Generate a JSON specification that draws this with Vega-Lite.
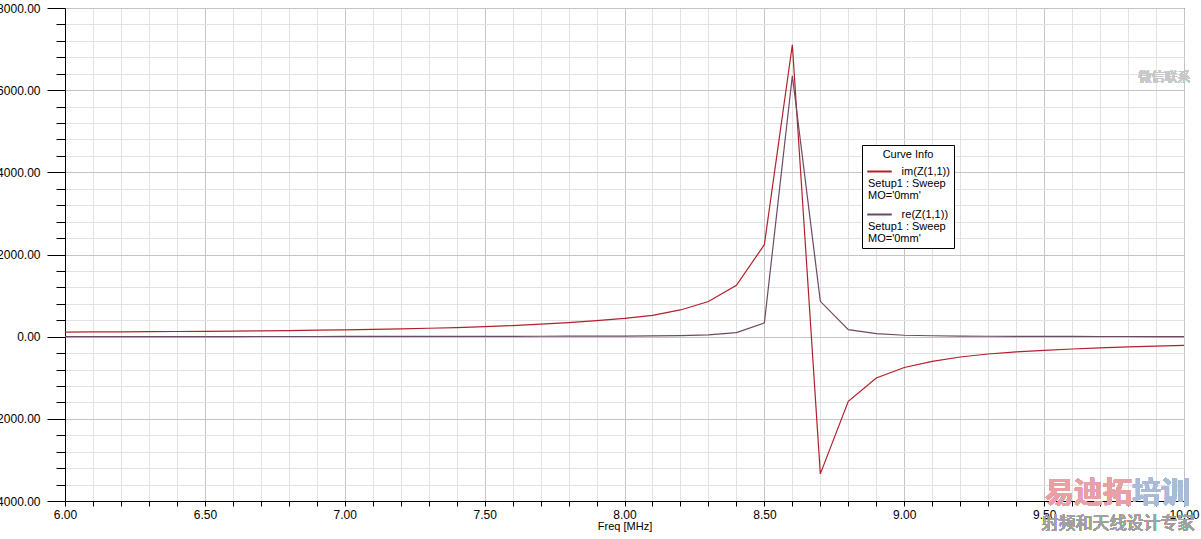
{
  "$schema": "https://vega.github.io/schema/vega-lite/v6.json",
  "autosize": "none",
  "width": 1119,
  "height": 493,
  "padding": {"left": 65, "top": 8, "right": 17, "bottom": 38},
  "background": "white",
  "config": {
    "font": "Liberation Sans",
    "view": {"stroke": "black", "strokeWidth": 1},
    "axis": {
      "domainColor": "black",
      "tickColor": "black",
      "labelColor": "black",
      "titleColor": "black",
      "labelFont": "Liberation Sans",
      "titleFont": "Liberation Sans",
      "labelFontSize": 12,
      "labelOverlap": false,
      "labelBound": false,
      "labelFlush": false,
      "gridOpacity": 1,
      "gridWidth": 1,
      "tickCount": 200
    },
    "legend": {
      "strokeColor": "black",
      "fillColor": "white",
      "padding": 4,
      "titleFont": "Liberation Sans",
      "titleFontSize": 11,
      "titleFontWeight": "normal",
      "titleColor": "black",
      "titleAnchor": "middle",
      "titlePadding": -2,
      "labelFont": "Liberation Sans",
      "labelFontSize": 11,
      "labelColor": "black",
      "symbolType": "M-1,0H1",
      "symbolStrokeWidth": 2,
      "symbolSize": 600,
      "rowPadding": -1
    }
  },
  "data": {
    "values": [
      {"f": 6.0, "v": 112, "s": "im(Z(1,1))"},
      {"f": 6.1, "v": 115, "s": "im(Z(1,1))"},
      {"f": 6.2, "v": 118, "s": "im(Z(1,1))"},
      {"f": 6.3, "v": 122, "s": "im(Z(1,1))"},
      {"f": 6.4, "v": 126, "s": "im(Z(1,1))"},
      {"f": 6.5, "v": 131, "s": "im(Z(1,1))"},
      {"f": 6.6, "v": 136, "s": "im(Z(1,1))"},
      {"f": 6.7, "v": 142, "s": "im(Z(1,1))"},
      {"f": 6.8, "v": 149, "s": "im(Z(1,1))"},
      {"f": 6.9, "v": 157, "s": "im(Z(1,1))"},
      {"f": 7.0, "v": 166, "s": "im(Z(1,1))"},
      {"f": 7.1, "v": 177, "s": "im(Z(1,1))"},
      {"f": 7.2, "v": 190, "s": "im(Z(1,1))"},
      {"f": 7.3, "v": 205, "s": "im(Z(1,1))"},
      {"f": 7.4, "v": 222, "s": "im(Z(1,1))"},
      {"f": 7.5, "v": 243, "s": "im(Z(1,1))"},
      {"f": 7.6, "v": 270, "s": "im(Z(1,1))"},
      {"f": 7.7, "v": 303, "s": "im(Z(1,1))"},
      {"f": 7.8, "v": 343, "s": "im(Z(1,1))"},
      {"f": 7.9, "v": 390, "s": "im(Z(1,1))"},
      {"f": 8.0, "v": 445, "s": "im(Z(1,1))"},
      {"f": 8.1, "v": 520, "s": "im(Z(1,1))"},
      {"f": 8.2, "v": 650, "s": "im(Z(1,1))"},
      {"f": 8.3, "v": 855, "s": "im(Z(1,1))"},
      {"f": 8.4, "v": 1250, "s": "im(Z(1,1))"},
      {"f": 8.5, "v": 2240, "s": "im(Z(1,1))"},
      {"f": 8.6, "v": 7105, "s": "im(Z(1,1))"},
      {"f": 8.7, "v": -3340, "s": "im(Z(1,1))"},
      {"f": 8.8, "v": -1575, "s": "im(Z(1,1))"},
      {"f": 8.9, "v": -1005, "s": "im(Z(1,1))"},
      {"f": 9.0, "v": -750, "s": "im(Z(1,1))"},
      {"f": 9.1, "v": -600, "s": "im(Z(1,1))"},
      {"f": 9.2, "v": -495, "s": "im(Z(1,1))"},
      {"f": 9.3, "v": -422, "s": "im(Z(1,1))"},
      {"f": 9.4, "v": -372, "s": "im(Z(1,1))"},
      {"f": 9.5, "v": -333, "s": "im(Z(1,1))"},
      {"f": 9.6, "v": -300, "s": "im(Z(1,1))"},
      {"f": 9.7, "v": -275, "s": "im(Z(1,1))"},
      {"f": 9.8, "v": -250, "s": "im(Z(1,1))"},
      {"f": 9.9, "v": -228, "s": "im(Z(1,1))"},
      {"f": 10.0, "v": -212, "s": "im(Z(1,1))"},
      {"f": 6.0, "v": 2, "s": "re(Z(1,1))"},
      {"f": 6.1, "v": 2, "s": "re(Z(1,1))"},
      {"f": 6.2, "v": 2, "s": "re(Z(1,1))"},
      {"f": 6.3, "v": 3, "s": "re(Z(1,1))"},
      {"f": 6.4, "v": 3, "s": "re(Z(1,1))"},
      {"f": 6.5, "v": 3, "s": "re(Z(1,1))"},
      {"f": 6.6, "v": 3, "s": "re(Z(1,1))"},
      {"f": 6.7, "v": 4, "s": "re(Z(1,1))"},
      {"f": 6.8, "v": 4, "s": "re(Z(1,1))"},
      {"f": 6.9, "v": 4, "s": "re(Z(1,1))"},
      {"f": 7.0, "v": 5, "s": "re(Z(1,1))"},
      {"f": 7.1, "v": 5, "s": "re(Z(1,1))"},
      {"f": 7.2, "v": 6, "s": "re(Z(1,1))"},
      {"f": 7.3, "v": 6, "s": "re(Z(1,1))"},
      {"f": 7.4, "v": 7, "s": "re(Z(1,1))"},
      {"f": 7.5, "v": 8, "s": "re(Z(1,1))"},
      {"f": 7.6, "v": 9, "s": "re(Z(1,1))"},
      {"f": 7.7, "v": 10, "s": "re(Z(1,1))"},
      {"f": 7.8, "v": 11, "s": "re(Z(1,1))"},
      {"f": 7.9, "v": 13, "s": "re(Z(1,1))"},
      {"f": 8.0, "v": 15, "s": "re(Z(1,1))"},
      {"f": 8.1, "v": 19, "s": "re(Z(1,1))"},
      {"f": 8.2, "v": 26, "s": "re(Z(1,1))"},
      {"f": 8.3, "v": 42, "s": "re(Z(1,1))"},
      {"f": 8.4, "v": 97, "s": "re(Z(1,1))"},
      {"f": 8.5, "v": 335, "s": "re(Z(1,1))"},
      {"f": 8.6, "v": 6350, "s": "re(Z(1,1))"},
      {"f": 8.7, "v": 860, "s": "re(Z(1,1))"},
      {"f": 8.8, "v": 170, "s": "re(Z(1,1))"},
      {"f": 8.9, "v": 73, "s": "re(Z(1,1))"},
      {"f": 9.0, "v": 35, "s": "re(Z(1,1))"},
      {"f": 9.1, "v": 22, "s": "re(Z(1,1))"},
      {"f": 9.2, "v": 14, "s": "re(Z(1,1))"},
      {"f": 9.3, "v": 10, "s": "re(Z(1,1))"},
      {"f": 9.4, "v": 8, "s": "re(Z(1,1))"},
      {"f": 9.5, "v": 6, "s": "re(Z(1,1))"},
      {"f": 9.6, "v": 5, "s": "re(Z(1,1))"},
      {"f": 9.7, "v": 4, "s": "re(Z(1,1))"},
      {"f": 9.8, "v": 4, "s": "re(Z(1,1))"},
      {"f": 9.9, "v": 3, "s": "re(Z(1,1))"},
      {"f": 10.0, "v": 3, "s": "re(Z(1,1))"}
    ]
  },
  "layer": [
    {
      "mark": {"type": "line", "strokeWidth": 1.2, "clip": true},
      "encoding": {
        "x": {
          "field": "f",
          "type": "quantitative",
          "scale": {"domain": [6, 10], "nice": false, "zero": false},
          "axis": {
            "title": "Freq [MHz]",
            "titleFontSize": 11,
            "titleFontWeight": "normal",
            "titlePadding": 0,
            "tickCount": 200,
            "values": [6.0,6.1,6.2,6.3,6.4,6.5,6.6,6.7,6.8,6.9,7.0,7.1,7.2,7.3,7.4,7.5,7.6,7.7,7.8,7.9,8.0,8.1,8.2,8.3,8.4,8.5,8.6,8.7,8.8,8.9,9.0,9.1,9.2,9.3,9.4,9.5,9.6,9.7,9.8,9.9,10.0],
            "labelExpr": "abs(datum.value*2 - round(datum.value*2)) < 0.001 ? format(datum.value, '.2f') : ''",
            "tickSize": 5,
            "labelPadding": 3,
            "grid": true,
            "gridColor": {"condition": {"test": "abs(datum.value*2 - round(datum.value*2)) < 0.001", "value": "#c4c4c4"}, "value": "#e2e2e2"}
          }
        },
        "y": {
          "field": "v",
          "type": "quantitative",
          "scale": {"domain": [-4000, 8000], "nice": false, "zero": false},
          "axis": {
            "title": null,
            "tickCount": 200,
            "values": [-4000,-3600,-3200,-2800,-2400,-2000,-1600,-1200,-800,-400,0,400,800,1200,1600,2000,2400,2800,3200,3600,4000,4400,4800,5200,5600,6000,6400,6800,7200,7600,8000],
            "labelExpr": "datum.value % 2000 == 0 ? format(datum.value, '.2f') : ''",
            "tickSize": {"condition": {"test": "datum.value % 2000 == 0", "value": 18}, "value": 9},
            "labelPadding": 7,
            "grid": true,
            "gridColor": {"condition": {"test": "datum.value % 2000 == 0", "value": "#c4c4c4"}, "value": "#e2e2e2"}
          }
        },
        "color": {
          "field": "s",
          "type": "nominal",
          "scale": {"domain": ["im(Z(1,1))", "re(Z(1,1))"], "range": ["#b3202a", "#6e4a62"]},
          "legend": {
            "title": "Curve Info",
            "orient": "none",
            "legendX": 797,
            "legendY": 137,
            "labelOffset": -25,
            "labelExpr": "['\u200b\u00a0\u00a0\u00a0\u00a0\u00a0\u00a0\u00a0\u00a0\u00a0\u00a0\u00a0' + datum.label, 'Setup1 : Sweep', \"MO='0mm'\"]",
            "encode": {
              "labels": {"update": {"lineHeight": {"value": 12}}}
            }
          }
        }
      }
    },
    {
      "mark": {"type": "text", "font": "Noto Sans CJK SC", "fontSize": 29, "fontWeight": "bold", "color": "#e8a0a4", "align": "right"},
      "encoding": {
        "x": {"datum": 9.814},
        "y": {"datum": -3820},
        "text": {"value": "易迪拓"}
      }
    },
    {
      "mark": {"type": "text", "font": "Noto Sans CJK SC", "fontSize": 29, "fontWeight": "bold", "color": "#a8bcd8", "align": "left"},
      "encoding": {
        "x": {"datum": 9.814},
        "y": {"datum": -3820},
        "text": {"value": "培训"}
      }
    },
    {
      "mark": {"type": "text", "font": "Noto Sans CJK SC", "fontSize": 17, "color": "#a0a0a0"},
      "encoding": {
        "x": {"datum": 9.764},
        "y": {"datum": -4550},
        "text": {"value": "射频和天线设计专家"}
      }
    },
    {
      "mark": {"type": "text", "font": "Noto Sans CJK SC", "fontSize": 13, "color": "#c8c8c8", "letterSpacing": 5},
      "encoding": {
        "x": {"datum": 9.93},
        "y": {"datum": 6326},
        "text": {"value": "微信联系"}
      }
    }
  ]
}
